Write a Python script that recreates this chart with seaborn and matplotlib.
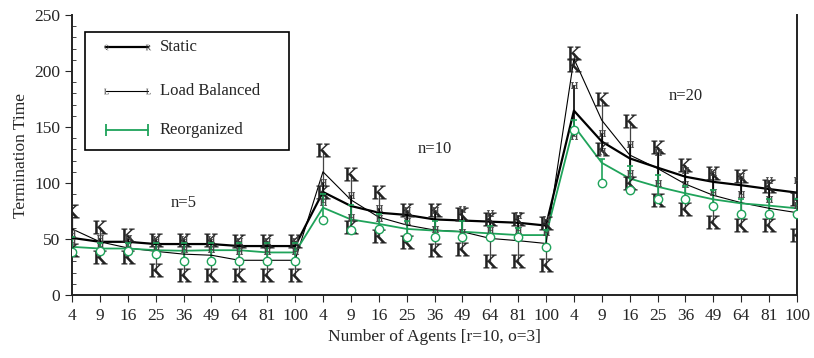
import numpy as np
import pandas as pd
import matplotlib
matplotlib.use("Agg")
import matplotlib.pyplot as plt
import seaborn as sns
from matplotlib.ticker import MultipleLocator
from matplotlib.patches import Rectangle

# ---------------- data ----------------
agents = [4, 9, 16, 25, 36, 49, 64, 81, 100]
groups = ["n=5", "n=10", "n=20"]
tick_labels = [str(a) for g in groups for a in agents]

static_mean = [51, 47.5, 47.5, 45.5, 45.5, 45.5, 43.7, 43.7, 43.7,
               92, 79.5, 73.5, 71.5, 67.5, 66.5, 65.5, 64.5, 62,
               164.6, 137, 122, 113.7, 105.6, 101, 98, 94.6, 91.4]
static_hi = [55, 51, 51, 50, 50, 50, 48, 48, 48,
             101, 89, 78, 76, 76, 77, 73, 71, 68,
             187.5, 145, 135, 128, 112, 110, 106, 103, 103]
static_lo = [47, 44, 44, 41, 41, 41, 39, 39, 39,
             83, 70, 69, 66, 59, 56, 58, 58, 56,
             142, 129, 109, 100, 99, 92, 90, 86, 80]

lb_mean = [59, 47.5, 42, 39, 36.5, 35.5, 31, 31, 31,
           110, 85, 69.5, 62.5, 58, 56.5, 50.5, 48.5, 46,
           211, 156, 125, 113, 99, 89, 82.4, 77.4, 73.5]
lb_hi = [75, 61, 54, 49, 49, 49, 48, 48, 48,
         129.5, 108, 92, 76, 76, 72, 68, 68, 64,
         216, 175, 155, 132, 116, 109, 106, 97, 86]
lb_lo = [40, 34, 34, 22, 18, 18, 18, 18, 18,
         92, 61, 52.5, 47.5, 40, 41, 30, 30, 27,
         205, 130, 100, 85, 77, 65.5, 62.5, 62.5, 53.6]

re_mean = [43, 41.5, 41.5, 40, 39.5, 40, 40, 38, 38,
           78, 67.5, 63.5, 59, 57.5, 56.5, 55, 53.5, 53.5,
           151, 118, 104, 96.7, 90.8, 85.4, 81.8, 79.8, 77.4]
re_hi = [52, 46, 46, 46, 46, 46, 46, 46, 46,
         90, 80, 72, 66, 66, 66, 62, 60, 58,
         156, 121, 115, 107, 97, 94, 86, 86, 86]
re_lo = [38, 39, 39, 37, 30, 30, 30, 30, 30,
         67, 58, 59, 52, 51.5, 51.5, 51.5, 51.5, 43,
         147, 99.7, 93.8, 86, 85.4, 79.8, 72, 72, 72]

group_label_pos = [4.0, 13.0, 22.0]
group_label_val = [82, 130, 178]

# ---------------- style ----------------
sns.set_style("ticks")
plt.rcParams["font.family"] = ["Liberation Serif", "DejaVu Serif"]
plt.rcParams["mathtext.fontset"] = "stix"

GREEN = "#1fa35a"

pos = np.arange(len(tick_labels))
df = pd.DataFrame({
    "pos": np.tile(pos, 3),
    "time": static_mean + lb_mean + re_mean,
    "series": ["Static"] * 27 + ["Load Balanced"] * 27 + ["Reorganized"] * 27,
})

fig = plt.figure(figsize=(8.14, 3.58), dpi=100)
ax = fig.add_axes([72 / 814, 1 - 295 / 358, (797 - 72) / 814, (295 - 15) / 358])

# error bars
ax.vlines(pos, lb_lo, lb_hi, colors="#444444", linewidth=0.9, zorder=2)
ax.vlines(pos, static_lo, static_hi, colors="black", linewidth=1.2, zorder=2)
ax.vlines(pos, re_lo, re_hi, colors=GREEN, linewidth=1.2, zorder=3)

# lines
sns.lineplot(data=df[df.series == "Load Balanced"], x="pos", y="time",
             color="black", linewidth=0.8, ax=ax, legend=False, zorder=4)
sns.lineplot(data=df[df.series == "Static"], x="pos", y="time",
             color="black", linewidth=1.6, ax=ax, legend=False, zorder=4)
sns.lineplot(data=df[df.series == "Reorganized"], x="pos", y="time",
             color=GREEN, linewidth=1.3, ax=ax, legend=False, zorder=5)

# end markers
kstyle = dict(ls="none", marker=r"$\mathrm{K}$", ms=10, mew=0.35, color="#222222", zorder=6)
ax.plot(pos, lb_hi, **kstyle)
ax.plot(pos, lb_lo, **kstyle)
hstyle = dict(ls="none", marker=r"$\mathrm{H}$", ms=5, mew=0.2, color="#444444", zorder=6)
ax.plot(pos, static_hi, **hstyle)
ax.plot(pos, static_lo, **hstyle)
ax.plot(pos, re_hi, ls="none", marker="_", ms=5, mew=1.2, color=GREEN, zorder=7)
ax.plot(pos, re_lo, ls="none", marker="o", ms=6, mfc="white", mec=GREEN, mew=1.0, zorder=7)

# group labels
for lab, x, y in zip(groups, group_label_pos, group_label_val):
    ax.text(x, y, lab, fontsize=12, ha="center", va="center")

# axes
ax.set_xlim(0, len(tick_labels) - 1)
ax.set_ylim(0, 250)
ax.set_xticks(pos)
ax.set_xticklabels(tick_labels, fontsize=12.5)
ax.yaxis.set_major_locator(MultipleLocator(50))
ax.yaxis.set_minor_locator(MultipleLocator(10))
ax.tick_params(axis="y", which="major", direction="out", length=5, labelsize=12.5)
ax.tick_params(axis="y", which="minor", direction="in", length=3)
ax.tick_params(axis="x", direction="out", length=5, pad=4)
ax.set_xlabel("Number of Agents [r=10, o=3]", fontsize=12.5)
ax.set_ylabel("Termination Time", fontsize=12.5)
ax.spines["top"].set_visible(False)
for s in ["left", "bottom", "right"]:
    ax.spines[s].set_linewidth(1.4)
    ax.spines[s].set_color("#222222")

# legend (drawn manually to mimic the original glyph style)
T = ax.transAxes
ax.add_patch(Rectangle((0.018, 0.518), 0.282, 0.421, transform=T, fill=True,
                       facecolor="white", edgecolor="black", linewidth=1.2, zorder=10))
x0, x1, xt = 0.047, 0.105, 0.121
ys = [0.886, 0.729, 0.589]
ax.plot([x0, x1], [ys[0]] * 2, transform=T, color="black", lw=1.6, zorder=11)
ax.plot([x0], [ys[0]], transform=T, marker=r"$\mathrm{Q}$", ms=4, mew=0, color="#333333", zorder=12)
ax.plot([x1], [ys[0]], transform=T, marker=r"$\mathrm{R}$", ms=4, mew=0, color="#333333", zorder=12)
ax.plot([x0, x1], [ys[1]] * 2, transform=T, color="black", lw=0.8, zorder=11)
ax.plot([x0, x1], [ys[1]] * 2, transform=T, ls="none", marker=r"$\mathrm{L}$", ms=4, mew=0,
        color="#333333", zorder=12)
ax.plot([x0, x1], [ys[2]] * 2, transform=T, color=GREEN, lw=1.3, zorder=11)
ax.plot([x0, x1], [ys[2]] * 2, transform=T, ls="none", marker="|", ms=9, mew=1.3,
        color=GREEN, zorder=12)
for lab, y in zip(["Static", "Load Balanced", "Reorganized"], ys):
    ax.text(xt, y, lab, transform=T, fontsize=12, va="center", ha="left", zorder=12)

fig.savefig("out.png", dpi=100)
